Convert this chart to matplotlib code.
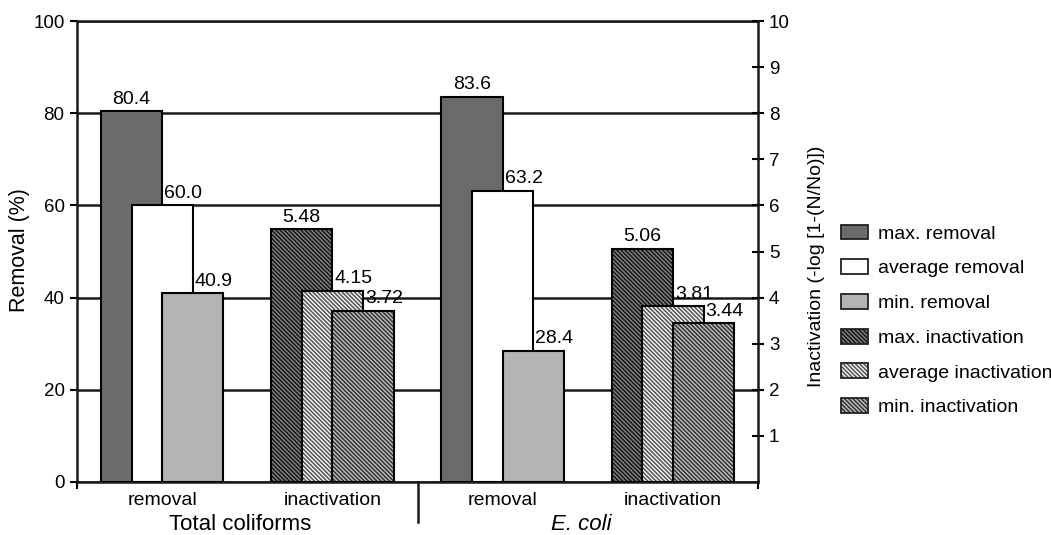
import matplotlib
matplotlib.use('Agg')
import matplotlib.pyplot as plt
import matplotlib.transforms as mtransforms
from matplotlib.patches import Patch
from matplotlib.legend_handler import HandlerTuple

plt.rcParams['font.family'] = ['Liberation Sans', 'DejaVu Sans']
plt.rcParams['hatch.linewidth'] = 1.2

# data
categories = ['removal', 'inactivation', 'removal', 'inactivation']
groups = ['Total coliforms', 'E. coli']
removal_pos = [0.5, 2.5]
inact_pos = [1.5, 3.5]

max_removal = [80.4, 83.6]
avg_removal = [60.0, 63.2]
min_removal = [40.9, 28.4]
max_inact = [5.48, 5.06]
avg_inact = [4.15, 3.81]
min_inact = [3.72, 3.44]

W = 0.36
OFF = 0.18
LBL = 0.123

fig = plt.figure(figsize=(10.51, 5.35), dpi=100)
ax1 = fig.add_axes([0.0733, 0.0991, 0.6479, 0.8616])
ax2 = ax1.twinx()


def draw_series(ax, xs, vals, dx, face, z, hatch=None, hcol=None, fmt='%.1f', lbl_dx=0.0):
    pos = [x + dx for x in xs]
    ax.bar(pos, vals, W, color=face, edgecolor='none', linewidth=0, zorder=z)
    if hatch:
        ax.bar(pos, vals, W, facecolor='none', edgecolor=hcol, hatch=hatch,
               linewidth=0, zorder=z + 0.01)
    ax.bar(pos, vals, W, facecolor='none', edgecolor='black', linewidth=1.5,
           zorder=z + 0.02)
    top = ax.get_ylim()[1]
    for p, v in zip(pos, vals):
        ax.text(p + lbl_dx, v + top * 0.008, fmt % v, ha='center', va='bottom',
                fontsize=14, zorder=10)


ax1.set_ylim(0, 100)
ax2.set_ylim(0, 10)
ax1.set_xlim(0, 4)

HT = chr(92) * 8   # dense diagonal hatch
styles = [
    ('max. removal', '#6b6b6b', None, None),
    ('average removal', 'white', None, None),
    ('min. removal', '#b3b3b3', None, None),
    ('max. inactivation', '#8a8a8a', HT, '#1a1a1a'),
    ('average inactivation', 'white', HT, '#5a5a5a'),
    ('min. inactivation', '#c8c8c8', HT, '#383838'),
]

draw_series(ax1, removal_pos, max_removal, -OFF, styles[0][1], 3)
draw_series(ax1, removal_pos, avg_removal, 0, styles[1][1], 4, lbl_dx=LBL)
draw_series(ax1, removal_pos, min_removal, OFF, styles[2][1], 5, lbl_dx=LBL)
draw_series(ax2, inact_pos, max_inact, -OFF, styles[3][1], 3, HT, styles[3][3], '%.2f')
draw_series(ax2, inact_pos, avg_inact, 0, styles[4][1], 4, HT, styles[4][3], '%.2f', LBL)
draw_series(ax2, inact_pos, min_inact, OFF, styles[5][1], 5, HT, styles[5][3], '%.2f', LBL)

# left axis
ax1.set_yticks(range(0, 101, 20))
ax1.yaxis.grid(True, color='#1a1a1a', linewidth=1.8)
ax1.set_axisbelow(True)
ax1.tick_params(axis='y', direction='out', length=5, width=1.5, labelsize=13.5, pad=4)
ax1.set_ylabel('Removal (%)', fontsize=15.5, va='center')
ax1.yaxis.set_label_coords(-0.0852, 0.503)

# x axis
ax1.set_xticks([0.5, 1.5, 2.5, 3.5], categories)
ax1.tick_params(axis='x', which='major', length=0, labelsize=14, pad=7)
ax1.set_xticks([0, 4], minor=True)
ax1.tick_params(axis='x', which='minor', direction='out', length=5, width=1.5)
ax1.axvline(2, ymin=-0.087, ymax=0, clip_on=False, color='#1a1a1a', linewidth=1.8)

trans = mtransforms.blended_transform_factory(ax1.transData, ax1.transAxes)
ax1.text(0.96, -0.093, groups[0], transform=trans, ha='center', va='center', fontsize=16)
ax1.text(2.96, -0.093, groups[1], transform=trans, ha='center', va='center',
         fontsize=16, style='italic')

# right axis
ax2.set_yticks(range(1, 11))
ax2.tick_params(axis='y', direction='inout', length=8, width=1.5, labelsize=13.5, pad=4)
ax2.set_ylabel('Inactivation (-log [1-(N/No)])', fontsize=14, va='center')
ax2.yaxis.set_label_coords(1.086, 0.467)

for s in ['left', 'bottom', 'top']:
    ax1.spines[s].set_linewidth(1.8)
    ax1.spines[s].set_color('#1a1a1a')
    ax2.spines[s].set_visible(False)
ax1.spines['right'].set_visible(False)
ax2.spines['right'].set_linewidth(1.8)
ax2.spines['right'].set_color('#1a1a1a')

# legend
handles = []
for name, face, hatch, hcol in styles:
    parts = [Patch(facecolor=face, edgecolor='none', linewidth=0)]
    if hatch:
        parts.append(Patch(facecolor='none', edgecolor=hcol, hatch=hatch, linewidth=0))
    parts.append(Patch(facecolor='none', edgecolor='#222222', linewidth=1.3))
    handles.append(tuple(parts))
fig.legend(handles, [s[0] for s in styles], handler_map={tuple: HandlerTuple(ndivide=1, pad=0)},
           loc='center left', bbox_to_anchor=(841 / 1051, 0.401), frameon=False,
           fontsize=14, handlelength=1.38, handleheight=0.8, handletextpad=0.5,
           labelspacing=0.85, borderpad=0, borderaxespad=0)

fig.savefig('out.png', dpi=100)
